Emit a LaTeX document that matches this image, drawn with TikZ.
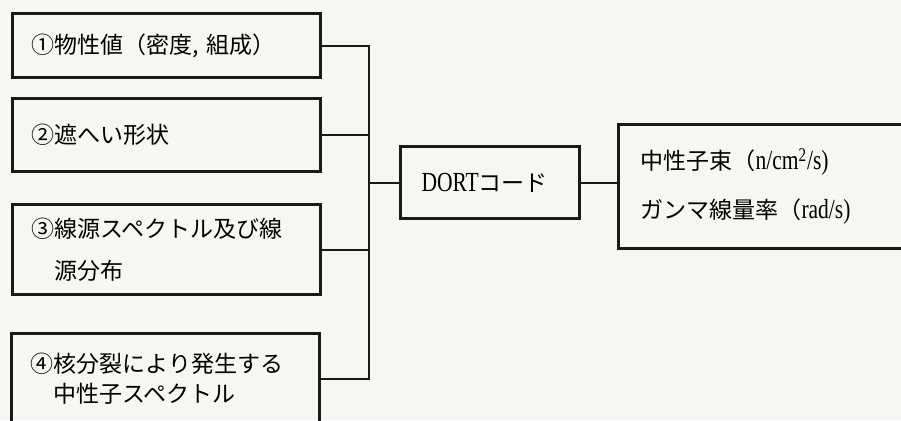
\documentclass[tikz,border=0pt]{standalone}
\usepackage{fontspec}
\newfontfamily\jp{Noto Sans CJK JP}
\newfontfamily\lat[FakeStretch=0.78,Scale=1.2]{Liberation Serif}
\definecolor{paper}{RGB}{246,246,243}
\definecolor{ink}{RGB}{25,25,25}

\begin{document}
\begin{tikzpicture}[x=.5pt,y=-.5pt,font=\jp\fontsize{11.5}{14}\selectfont,
  box/.style={draw=ink,line width=1.5pt,anchor=north west,align=left,inner xsep=9.5pt,text width=135pt},
  wire/.style={draw=ink,line width=1pt}]
\useasboundingbox (0,0) rectangle (901,420);
\clip (0,0) rectangle (901,420);
\fill[paper] (0,0) rectangle (901,420);

\node[box,minimum height=32pt] (prop) at (11,12) {①物性値（密度, 組成）};
\node[box,minimum height=36.5pt] (shape) at (11,97) {②遮へい形状};
\node[box,minimum height=45pt,font=\jp\fontsize{11.5}{21}\selectfont] (src) at (11,203)
  {③線源スペクトル及び線\\\hspace{1em}源分布};
\node[box,minimum height=45pt,font=\jp\fontsize{11.5}{15}\selectfont] (fiss) at (10,332)
  {④核分裂により発生する\\\hspace{1em}中性子スペクトル};

\node[box,minimum height=36pt,inner xsep=10.5pt,text width=68.5pt] (dort) at (399,145)
  {{\lat DORT}コード};
\node[box,minimum height=62pt,inner xsep=11pt,text width=134.5pt,font=\jp\fontsize{11.5}{24.5}\selectfont] (res) at (617,123)
  {中性子束（{\lat n/cm\textsuperscript{2}/s)}\\ガンマ線量率（{\lat rad/s)}};

% bus
\coordinate (bus) at (369,0);
\draw[wire] (prop.east) -- (prop.east -| bus) -- (fiss.east -| bus) -- (fiss.east);
\draw[wire] (shape.east) -- (shape.east -| bus);
\draw[wire] (src.east) -- (src.east -| bus);
\draw[wire] (dort.west -| bus) -- (dort.west);
\draw[wire] (dort.east) -- (dort.east -| res.west);
\end{tikzpicture}
\end{document}
